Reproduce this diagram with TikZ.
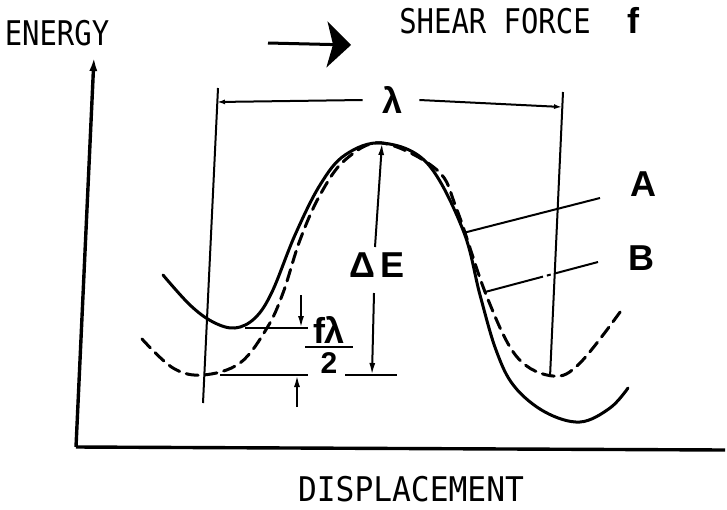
\documentclass[tikz,border=0pt]{standalone}
\usepackage{fontspec}
\setmainfont{Liberation Sans}
\newfontfamily\plotfont{DejaVu Sans Mono}
\usepackage{graphicx}
\usetikzlibrary{arrows.meta}

\begin{document}
\begin{tikzpicture}[x=0.5pt, y=-0.5pt,
  curve/.style={line width=1.5pt, line cap=round},
  axis/.style={line width=1.7pt},
  thinline/.style={line width=1pt},
  dimarr/.style={-{Latex[length=6pt,width=3pt]}, line width=1pt},
  lamarr/.style={-{Latex[length=4pt,width=2.5pt]}, line width=1pt},
  plotlbl/.style={font=\fontsize{17}{20}\selectfont\plotfont, inner sep=0pt},
  boldlbl/.style={font=\fontsize{18}{21}\selectfont\bfseries, inner sep=0pt}
]
\useasboundingbox (0,0) rectangle (727,509);
% labels
\node[plotlbl] (energy) at (57,33) {\scalebox{0.85}[1]{ENERGY}};
\node[plotlbl] (shear) at (495,21) {\scalebox{0.85}[1]{SHEAR FORCE}};
\node[boldlbl] (force) at (633,20) {f};
\node[plotlbl] (displ) at (411,489) {\scalebox{0.92}[1]{DISPLACEMENT}};
\node[boldlbl] (lam) at (393,100) {λ};
\node[boldlbl] (dE) at (377,265) {Δ\,E};
\node[boldlbl] (A) at (643,184) {A};
\node[boldlbl] (B) at (641,258) {B};
\node[boldlbl] (frac) at (329,345) {\vbox{\hbox to 24pt{\hss fλ\hss}\kern1.2pt\hrule height 1pt\kern2pt\hbox to 24pt{\hss\fontsize{15}{17}\selectfont 2\hss}}};
% axes
\coordinate (origin) at (76,447);
\coordinate (ytop) at (94,57);
\coordinate (xend) at (725,450);
\draw[axis, -{Latex[length=7pt,width=4pt]}] (origin) -- (ytop);
\draw[axis] (origin) -- (xend);
% shear direction
\coordinate (sfa) at (268,43);
\coordinate (sfb) at (351,45);
\draw[line width=1.5pt, -{Stealth[length=12pt,width=23pt,inset=3pt]}] (sfa) -- (sfb);
% wavelength
\coordinate (lamLt) at (218,88);
\coordinate (lamLb) at (203,403);
\coordinate (lamRt) at (563,92);
\coordinate (lamRb) at (550,377);
\coordinate (lamL) at (217,102);
\coordinate (lamR) at (562,107);
\draw[thinline] (lamLt) -- (lamLb);
\draw[thinline] (lamRt) -- (lamRb);
\draw[lamarr] ([xshift=-10pt]lam.west) -- (lamL);
\draw[lamarr] ([xshift=8pt]lam.east) -- (lamR);
% energy curves
\draw[curve] plot[smooth, tension=0.6] coordinates {(163,275) (190,305) (213,322) (235,328) (255,318) (272,292) (295,235) (320,185) (345,155) (382,143) (427,163) (463,230) (480,295) (496,350) (514,386) (545,412) (580,422) (610,408) (628,388)};
\draw[curve, dash pattern=on 6pt off 3.5pt] plot[smooth, tension=0.6] coordinates {(142,339) (173,368) (203,375) (240,363) (267,328) (283,293) (300,240) (320,195) (345,160) (382,143) (437,170) (457,210) (487,297) (517,357) (553,376) (580,363) (623,308)};
% barrier height
\coordinate (peak) at (382,143);
\coordinate (dEtop) at (375,247);
\coordinate (dEbot) at (374,293);
\coordinate (dEmin) at (372,375);
\coordinate (dEl) at (345,375);
\coordinate (dEr) at (397,375);
\draw[dimarr] (dEtop) -- (peak);
\draw[dimarr] (dEbot) -- (dEmin);
\draw[thinline] (dEl) -- (dEr);
% f lambda / 2
\coordinate (upl) at (245,328);
\coordinate (upr) at (308,328);
\coordinate (lol) at (220,375);
\coordinate (lor) at (308,375);
\draw[thinline] (upl) -- (upr);
\draw[thinline] (lol) -- (lor);
\draw[dimarr] (301,295) -- (301,328);
\draw[dimarr] (297,407) -- (297,375);
% curve labels
\coordinate (Aend) at (463,233);
\coordinate (Bend) at (485,292);
\draw[thinline] (Aend) -- (600,198);
\draw[thinline, dash pattern=on 30pt off 2pt on 2pt off 2pt] (Bend) -- (598,262);
\end{tikzpicture}
\end{document}
